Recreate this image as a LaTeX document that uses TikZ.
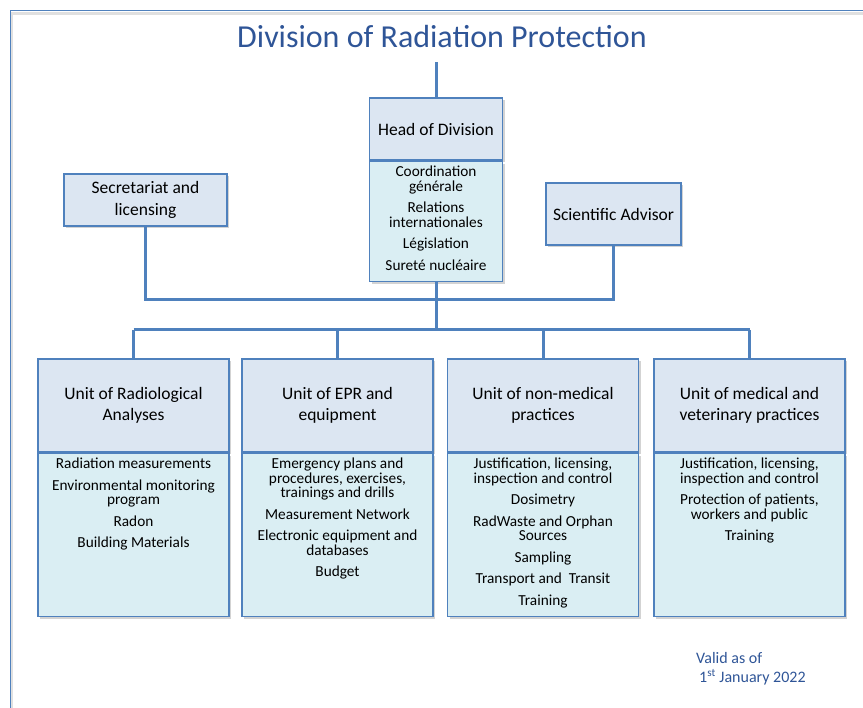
\documentclass[tikz,border=0pt]{standalone}
\usepackage{fontspec}
\setmainfont{Carlito}
\usetikzlibrary{positioning,shadows}
\definecolor{boxLine}{RGB}{79,129,189}
\definecolor{headFill}{RGB}{220,230,242}
\definecolor{bodyFill}{RGB}{218,238,243}
\definecolor{titleBlue}{RGB}{47,85,151}
\newcommand{\itemlist}[3]{\begin{minipage}[t][#1][t]{#2}\centering\vspace*{5pt}#3\end{minipage}}
\tikzset{
  head/.style={rectangle, draw=boxLine, fill=headFill, line width=1.1pt,
               align=center, inner sep=0pt, font=\fontsize{17.5}{21}\selectfont,
               drop shadow={opacity=0.35, shadow xshift=2pt, shadow yshift=-2.5pt}},
  unit/.style={head, minimum width=191pt, minimum height=93pt},
  body/.style={rectangle, draw=boxLine, fill=bodyFill, line width=1.1pt,
               inner sep=0pt, font=\fontsize{15.3}{14.5}\selectfont,
               drop shadow={opacity=0.35, shadow xshift=2pt, shadow yshift=-2.5pt}},
  link/.style={draw=boxLine, line width=3pt},
}

\begin{document}
\begin{tikzpicture}[x=1pt, y=-1pt]
  \useasboundingbox (0,0) rectangle (863,708);
  % page frame
  \draw[black!12, line width=2.5pt] (12,720) |- (870,13.5);
  \draw[boxLine, line width=1pt] (10,720) |- (870,11);

  \node[text=titleBlue, font=\fontsize{32}{36}\selectfont] (title) at (442,37) {Division of Radiation Protection};
  \coordinate (titlefoot) at (436,62);
  \coordinate (upperbus) at (0,300);
  \coordinate (lowerbus) at (0,330);

  % head of division
  \node[head, minimum width=133pt, minimum height=62pt] (hod) at (436,129) {Head of Division};
  \node[body, below=0pt of hod] (hodbody) {\itemlist{120pt}{133pt}{%
    Coordination\\générale\\[7pt]
    Relations\\internationales\\[7pt]
    Législation\\[7pt]
    Sureté nucléaire}};

  % staff boxes
  \node[head, minimum width=163pt, minimum height=52pt, font=\fontsize{17.5}{22}\selectfont] (sec) at (145.5,200) {Secretariat and\\licensing};
  \node[head, minimum width=135pt, minimum height=62pt] (sci) at (613.5,214) {Scientific Advisor};

  % units
  \node[unit] (radana) at (133.5,405.5) {Unit of Radiological\\Analyses};
  \node[body, below=0pt of radana] (radanabody) {\itemlist{163pt}{191pt}{%
    Radiation measurements\\[7pt]
    Environmental monitoring\\program\\[7pt]
    Radon\\[7pt]
    Building Materials}};

  \node[unit] (epr) at (337.5,405.5) {Unit of EPR and\\equipment};
  \node[body, below=0pt of epr] (eprbody) {\itemlist{163pt}{191pt}{%
    Emergency plans and\\procedures, exercises,\\trainings and drills\\[7pt]
    Measurement Network\\[7pt]
    Electronic equipment and\\databases\\[7pt]
    Budget}};

  \node[unit] (nonmed) at (543,405.5) {Unit of non-medical\\practices};
  \node[body, below=0pt of nonmed] (nonmedbody) {\itemlist{163pt}{191pt}{%
    Justification, licensing,\\inspection and control\\[7pt]
    Dosimetry\\[7pt]
    RadWaste and Orphan\\Sources\\[7pt]
    Sampling\\[7pt]
    Transport and\ \ Transit\\[7pt]
    Training}};

  \node[unit] (med) at (749.5,405.5) {Unit of medical and\\veterinary practices};
  \node[body, below=0pt of med] (medbody) {\itemlist{163pt}{191pt}{%
    Justification, licensing,\\inspection and control\\[7pt]
    Protection of patients,\\workers and public\\[7pt]
    Training}};

  % connectors
  \draw[link] (hod.north) -- (hod.north |- titlefoot);
  \draw[link] (sec.south) -- (sec.south |- upperbus) -| (sci.south);
  \draw[link] (hodbody.south) -- (hodbody.south |- lowerbus);
  \draw[link] (radana.north |- lowerbus) -- (med.north |- lowerbus);
  \foreach \u in {radana, epr, nonmed, med}
    \draw[link] (\u.north) -- (\u.north |- lowerbus);

  \node[anchor=north west, align=left, text=titleBlue, inner sep=0pt,
        font=\fontsize{16}{19.5}\selectfont] (valid) at (696,652) {Valid as of\\\hspace*{3pt}1\textsuperscript{st} January 2022};
\end{tikzpicture}
\end{document}
